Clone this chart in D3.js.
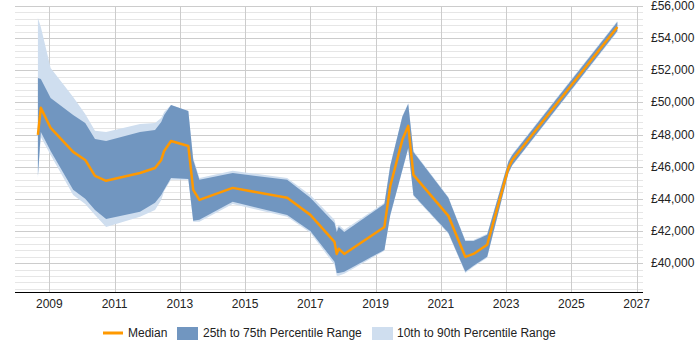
<!DOCTYPE html>
<html lang="en">
<head>
    <meta charset="UTF-8">
    <title>Salary Trend</title>
    <script src="https://d3js.org/d3.v7.min.js"></script>
    <style>
        body {
            margin: 0;
            padding: 0;
            background: #fff;
            font-family: "Liberation Sans", Arial, sans-serif;
        }
        svg {
            display: block;
        }
        .tick-label {
            font-size: 12px;
            fill: #222;
        }
    </style>
</head>
<body>
    <svg id="chart" width="700" height="350"></svg>

    <script>
        // data (year as decimal, values in GBP)
        const years = [2008.65, 2008.74, 2009.04, 2009.73, 2010.10, 2010.40, 2010.74, 2011.78, 2012.24, 2012.43,
            2012.52, 2012.73, 2013.26, 2013.41, 2013.60, 2014.62, 2016.29, 2017.00, 2017.74, 2017.81,
            2017.87, 2018.04, 2019.27, 2019.45, 2019.82, 2020.00, 2020.16, 2021.23, 2021.75, 2022.00,
            2022.42, 2023.07, 2023.19, 2026.41];
        const p10 = [45300, 47850, 46730, 44240, 43680, 43000, 42250, 42880, 43310, 43930,
            44490, 45180, 45180, 42570, 42570, 43680, 42880, 41880, 39890, 39210,
            39210, 39330, 40760, 42940, 45740, 47110, 44180, 41820, 39390, 39770,
            40330, 45550, 46050, 54380];
        const p25 = [45430, 48160, 46980, 44560, 44000, 43310, 42750, 43190, 43750, 44240,
            44560, 45300, 45240, 42630, 42690, 43810, 43000, 42000, 40080, 39390,
            39390, 39460, 40820, 43000, 45800, 47170, 44240, 41880, 39460, 39830,
            40390, 45610, 46110, 54450];
        const median = [47980, 49660, 48410, 46920, 46420, 45430, 45120, 45610, 45920, 46420,
            46980, 47600, 47290, 44560, 43930, 44680, 44060, 43000, 41320, 40570,
            40890, 40570, 42250, 44800, 47670, 48540, 45490, 42940, 40390, 40570,
            41140, 45920, 46420, 54690];
        const p75 = [51520, 51460, 50280, 49220, 48720, 47730, 47600, 48160, 48290, 48780,
            49220, 49840, 49470, 46420, 45180, 45610, 45180, 44060, 42500, 41940,
            42250, 41940, 43680, 46050, 49100, 49900, 46920, 44060, 41380, 41380,
            41760, 46300, 46730, 55010];
        const p90 = [55250, 54690, 52140, 50340, 49280, 48230, 48160, 48660, 48720, 49030,
            49410, 49840, 49470, 46550, 45300, 45740, 45300, 44240, 42690, 42130,
            42380, 42070, 43750, 46110, 49160, 49970, 46980, 44120, 41440, 41440,
            41820, 46360, 46790, 55070];

        const xTicks = [2009, 2011, 2013, 2015, 2017, 2019, 2021, 2023, 2025, 2027];
        const yTicks = [40000, 42000, 44000, 46000, 48000, 50000, 52000, 54000, 56000];
        const legendLabels = ["Median", "25th to 75th Percentile Range", "10th to 90th Percentile Range"];

        const colors = {
            median: "#ff9900",
            inner: "#7196c0",
            outer: "#cfdeef"
        };

        const plot = { left: 15, right: 643, top: 6, bottom: 292 };

        const svg = d3.select("#chart");

        const x = d3.scaleLinear()
            .domain([2007.948, 2027.196])
            .range([plot.left, plot.right]);

        const y = d3.scaleLinear()
            .domain([38200, 56000])
            .range([plot.bottom, plot.top]);

        const rows = years.map((yr, i) => ({
            year: yr, p10: p10[i], p25: p25[i], median: median[i], p75: p75[i], p90: p90[i]
        }));

        // horizontal grid, minor every 400 and major every 2000
        const minor = d3.range(38400, 56001, 400);
        svg.append("g")
            .selectAll("line")
            .data(minor)
            .join("line")
            .attr("x1", plot.left)
            .attr("x2", plot.right)
            .attr("y1", d => Math.round(y(d)) + 0.5)
            .attr("y2", d => Math.round(y(d)) + 0.5)
            .attr("stroke", d => d % 2000 === 0 ? "#cccccc" : "#e6e6e6")
            .attr("stroke-width", 1);

        // vertical grid
        svg.append("g")
            .selectAll("line")
            .data(xTicks)
            .join("line")
            .attr("x1", d => Math.round(x(d)) + 0.5)
            .attr("x2", d => Math.round(x(d)) + 0.5)
            .attr("y1", plot.top)
            .attr("y2", plot.bottom)
            .attr("stroke", "#cccccc")
            .attr("stroke-width", 1);

        // bands
        const area = (lo, hi) => d3.area()
            .x(d => x(d.year))
            .y0(d => y(d[lo]))
            .y1(d => y(d[hi]));

        svg.append("path")
            .datum(rows)
            .attr("d", area("p10", "p90"))
            .attr("fill", colors.outer);

        svg.append("path")
            .datum(rows)
            .attr("d", area("p25", "p75"))
            .attr("fill", colors.inner);

        svg.append("path")
            .datum(rows)
            .attr("d", d3.line().x(d => x(d.year)).y(d => y(d.median)))
            .attr("fill", "none")
            .attr("stroke", colors.median)
            .attr("stroke-width", 2.5)
            .attr("stroke-linejoin", "round");

        // bottom axis
        svg.append("line")
            .attr("x1", plot.left)
            .attr("x2", plot.right)
            .attr("y1", plot.bottom + 0.5)
            .attr("y2", plot.bottom + 0.5)
            .attr("stroke", "#000")
            .attr("stroke-width", 1);

        svg.append("g")
            .selectAll("text")
            .data(xTicks)
            .join("text")
            .attr("class", "tick-label")
            .attr("x", d => x(d))
            .attr("y", plot.bottom + 16)
            .attr("text-anchor", "middle")
            .text(d => d);

        // right value labels
        svg.append("g")
            .selectAll("text")
            .data(yTicks)
            .join("text")
            .attr("class", "tick-label")
            .attr("x", 651)
            .attr("y", d => y(d) + 4)
            .attr("text-anchor", "start")
            .text(d => "£" + d3.format(",")(d));

        // legend
        const legend = svg.append("g").attr("transform", "translate(0,333)");

        legend.append("line")
            .attr("x1", 103).attr("x2", 123)
            .attr("y1", 0).attr("y2", 0)
            .attr("stroke", colors.median)
            .attr("stroke-width", 3);
        legend.append("text")
            .attr("class", "tick-label")
            .attr("x", 128).attr("y", 4)
            .text(legendLabels[0]);

        legend.append("rect")
            .attr("x", 177).attr("y", -6)
            .attr("width", 21).attr("height", 13)
            .attr("fill", colors.inner);
        legend.append("text")
            .attr("class", "tick-label")
            .attr("x", 203).attr("y", 4)
            .text(legendLabels[1]);

        legend.append("rect")
            .attr("x", 372).attr("y", -6)
            .attr("width", 21).attr("height", 13)
            .attr("fill", colors.outer);
        legend.append("text")
            .attr("class", "tick-label")
            .attr("x", 397).attr("y", 4)
            .text(legendLabels[2]);
    </script>
</body>
</html>
